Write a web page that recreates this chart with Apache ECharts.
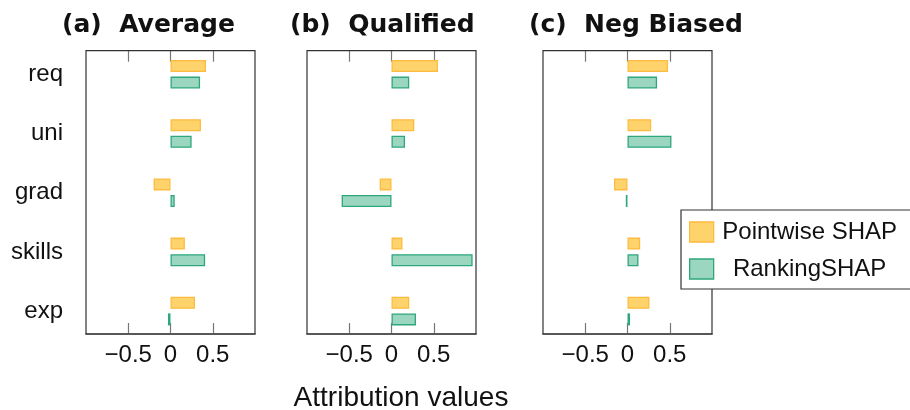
<!DOCTYPE html>
<html>
<head>
<meta charset="utf-8">
<script src="https://cdn.jsdelivr.net/npm/echarts@6/dist/echarts.min.js"></script>
<style>html,body{margin:0;padding:0;background:#fff}#c{width:910px;height:410px}</style>
</head>
<body>
<div id="c"></div>
<script>
const categories = ['req', 'uni', 'grad', 'skills', 'exp'];
const panelTitles = ['(a)  Average', '(b)  Qualified', '(c)  Neg Biased'];
const seriesNames = ['Pointwise SHAP', 'RankingSHAP'];
const avgPointwise = [0.42, 0.36, -0.20, 0.17, 0.29];
const avgRanking = [0.35, 0.25, 0.05, 0.41, -0.03];
const qualPointwise = [0.55, 0.27, -0.14, 0.13, 0.21];
const qualRanking = [0.21, 0.16, -0.59, 0.96, 0.29];
const negPointwise = [0.48, 0.28, -0.16, 0.15, 0.26];
const negRanking = [0.35, 0.52, -0.02, 0.13, 0.03];
const xTicks = [-0.5, 0, 0.5];
const xLabel = 'Attribution values';

const panels = [
  { left: 86, width: 169, p: avgPointwise, r: avgRanking, titleLeft: 57 },
  { left: 307, width: 169, p: qualPointwise, r: qualRanking, titleLeft: 285 },
  { left: 543, width: 169, p: negPointwise, r: negRanking, titleLeft: 524 }
];

const FONT = 'Liberation Sans';
const styles = [
  { color: '#FFD36B', borderColor: '#FDBB3F' },
  { color: '#9BD6C1', borderColor: '#2EA77C' }
];

const grid = [], xAxis = [], yAxis = [], series = [], title = [];
panels.forEach((pn, i) => {
  grid.push({ left: pn.left, width: pn.width, top: 44.7, height: 296, show: false });
  grid.push({ left: pn.left, width: pn.width, top: 50.7, height: 283.3, show: true,
    borderColor: '#333', borderWidth: 1.2, backgroundColor: 'transparent', z: 1 });
  const dg = 2 * i, fg = 2 * i + 1;
  xAxis.push({ type: 'value', gridIndex: dg, min: -1, max: 1, show: false });
  yAxis.push({ type: 'category', gridIndex: dg, data: categories, inverse: true,
    axisLine: { show: false }, axisTick: { show: false }, splitLine: { show: false },
    axisLabel: { show: i === 0, margin: 23, fontFamily: FONT, fontSize: 24, color: '#111' } });
  xAxis.push({ type: 'value', gridIndex: fg, min: -1, max: 1, interval: 0.5, position: 'bottom',
    axisLine: { show: true, lineStyle: { color: '#555', width: 1.6 } },
    axisTick: { show: true, inside: true, length: 11, lineStyle: { color: '#777', width: 1.2 },
      customValues: xTicks },
    splitLine: { show: false },
    axisLabel: { margin: 9, fontFamily: FONT, fontSize: 24, color: '#111', customValues: xTicks,
      formatter: v => (Math.abs(v) > 0.75 ? '' : (v < 0 ? '\u2212' + Math.abs(v) : String(v))) } });
  xAxis.push({ type: 'value', gridIndex: fg, min: -1, max: 1, interval: 0.5, position: 'top',
    axisLine: { show: false },
    axisTick: { show: true, inside: true, length: 11, lineStyle: { color: '#777', width: 1.2 },
      customValues: xTicks },
    axisLabel: { show: false }, splitLine: { show: false } });
  yAxis.push({ type: 'value', gridIndex: fg, show: false, min: 0, max: 1 });
  const yData = yAxis.length - 2;
  const xData = xAxis.length - 3;
  [pn.p, pn.r].forEach((vals, k) => {
    series.push({
      name: seriesNames[k], type: 'bar', xAxisIndex: xData, yAxisIndex: yData,
      data: vals, barWidth: 12, barGap: '38%',
      itemStyle: { color: styles[k].color, borderColor: styles[k].borderColor, borderWidth: 1.3 },
      emphasis: { disabled: true }, animation: false
    });
  });
  title.push({ text: panelTitles[i], left: pn.titleLeft, top: 8,
    textStyle: { fontFamily: 'DejaVu Sans', fontWeight: 'bold', fontSize: 25, color: '#111' } });
});
title.push({ text: xLabel, left: 396, top: 379, textAlign: 'center',
  textStyle: { fontFamily: FONT, fontWeight: 'normal', fontSize: 28, color: '#111' } });

const chart = echarts.init(document.getElementById('c'), null, { renderer: 'canvas' });
chart.setOption({
  animation: false,
  backgroundColor: '#fff',
  title,
  grid, xAxis, yAxis, series,
  legend: {
    data: seriesNames, orient: 'vertical', left: 681, top: 210, icon: 'rect',
    padding: [10, 20, 8, 8], itemWidth: 24, itemHeight: 20, itemGap: 13,
    backgroundColor: '#fff', borderColor: '#333', borderWidth: 1.2, borderRadius: 0,
    selectedMode: false,
    itemStyle: { borderWidth: 1.3 },
    formatter: n => '{t|' + n + '}',
    textStyle: { fontFamily: FONT, fontSize: 24, color: '#111',
      rich: { t: { width: 182, align: 'center', fontFamily: FONT, fontSize: 24, color: '#111' } } }
  }
});
</script>
</body>
</html>
